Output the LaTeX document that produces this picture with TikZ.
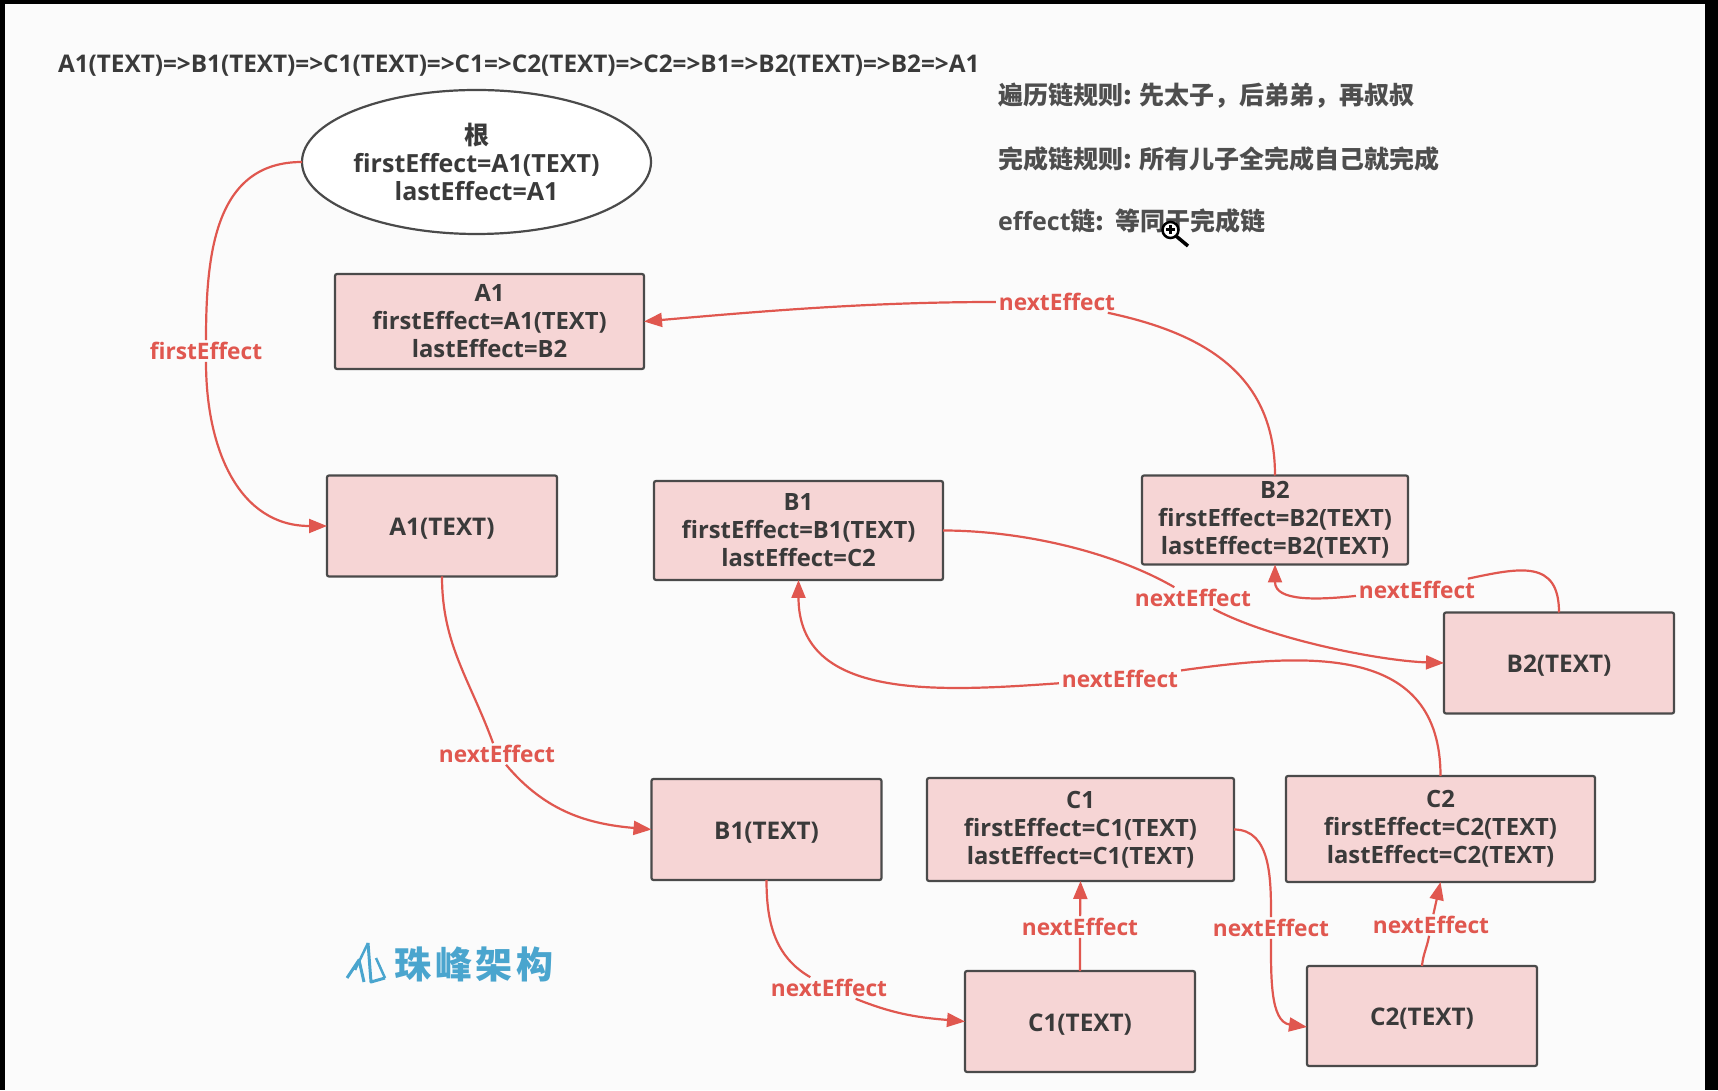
\documentclass[tikz,border=0pt]{standalone}
\usepackage{fontspec}
\setmainfont{Open Sans}
\newfontfamily\cjk{Noto Sans CJK SC}
\usetikzlibrary{arrows.meta,shapes.geometric}
\definecolor{bgcol}{HTML}{FBFBFB}
\definecolor{boxfill}{HTML}{F6D5D5}
\definecolor{boxline}{HTML}{4A4A4A}
\definecolor{linkred}{HTML}{E0574F}
\definecolor{inkgrey}{HTML}{3A3A3A}
\definecolor{logoblue}{HTML}{4AA5CE}
\tikzset{
  every node/.style={text=inkgrey,font=\fontsize{23.8}{28}\selectfont\bfseries,align=center,inner sep=0pt,outer sep=0pt},
  fiberbox/.style={draw=boxline,line width=2.2pt,fill=boxfill,rounded corners=2pt},
  textbox/.style={fiberbox,minimum width=230pt,minimum height=101pt,text height=19.5pt,text depth=0pt,font=\fontsize{24.3}{28}\selectfont\bfseries},
  rootnode/.style={ellipse,draw=boxline,line width=2.2pt,fill=white,minimum width=349pt,minimum height=144pt,font=\fontsize{25}{28}\selectfont\bfseries},
  steplabel/.style={text=linkred,font=\fontsize{22.7}{28}\selectfont\bfseries,inner xsep=3pt,inner ysep=2pt},
  link/.style={draw=linkred,line width=2.2pt,-{Triangle[length=18pt,width=14pt]}},
  rule/.style={anchor=west,font=\fontsize{25}{28}\selectfont\cjk\bfseries,text=inkgrey!90!white}
}
\begin{document}
\begin{tikzpicture}[x=1pt,y=1pt]
                \useasboundingbox (0,0) rectangle (1718,1090);
                \fill[black] (0,0) rectangle (1718,1090);
                \fill[bgcol] (5,0) rectangle (1705,1086);

                \node[anchor=west,font=\fontsize{24.3}{28}\selectfont\bfseries] (chain) at (58,1024) {A1(TEXT)=>B1(TEXT)=>C1(TEXT)=>C1=>C2(TEXT)=>C2=>B1=>B2(TEXT)=>B2=>A1};
                \node[rule] (rule1) at (998,994) {遍历链规则: 先太子，后弟弟，再叔叔};
                \node[rule] (rule2) at (998,931) {完成链规则: 所有儿子全完成自己就完成};
                \node[rule] (rule3) at (998,869) {{\rmfamily effect}链:\ \ 等同于完成链};

                \node[rootnode] (root) at (476.5,928) {{\cjk 根}\\firstEffect=A1(TEXT)\\lastEffect=A1};
                \node[fiberbox,minimum width=309pt,minimum height=95pt] (A1) at (489.5,768.5) {A1\\firstEffect=A1(TEXT)\\lastEffect=B2};
                \node[textbox] (A1T) at (442,564) {A1(TEXT)};
                \node[fiberbox,minimum width=289pt,minimum height=99pt] (B1) at (798.5,559.5) {B1\\firstEffect=B1(TEXT)\\lastEffect=C2};
                \node[fiberbox,minimum width=266pt,minimum height=89pt] (B2) at (1275,570) {B2\\firstEffect=B2(TEXT)\\lastEffect=B2(TEXT)};
                \node[textbox] (B2T) at (1559,427) {B2(TEXT)};
                \node[textbox] (B1T) at (766.5,260.5) {B1(TEXT)};
                \node[fiberbox,minimum width=307pt,minimum height=103pt] (C1) at (1080.5,260.5) {C1\\firstEffect=C1(TEXT)\\lastEffect=C1(TEXT)};
                \node[fiberbox,minimum width=309pt,minimum height=106pt] (C2) at (1440.5,261) {C2\\firstEffect=C2(TEXT)\\lastEffect=C2(TEXT)};
                \node[textbox] (C1T) at (1080,68.5) {C1(TEXT)};
                \node[textbox,minimum height=100pt] (C2T) at (1422,74) {C2(TEXT)};

                \node[steplabel] (lroot) at (206,739) {firstEffect};
                \node[steplabel] (lB2) at (1057,788) {nextEffect};
                \node[steplabel] (lA1T) at (497,336) {nextEffect};
                \node[steplabel] (lB1T) at (829,102) {nextEffect};
                \node[steplabel] (lC1T) at (1080,163) {nextEffect};
                \node[steplabel] (lC1) at (1271,162) {nextEffect};
                \node[steplabel] (lC2T) at (1431,165) {nextEffect};
                \node[steplabel] (lC2) at (1120,411) {nextEffect};
                \node[steplabel] (lB1) at (1193,492) {nextEffect};
                \node[steplabel] (lB2T) at (1417,500.5) {nextEffect};

                \path [link] (root.west) to[out=180,in=90,looseness=1.1] (lroot) to[out=-90,in=180,looseness=1.1] (A1T.west);
                \path [link] (B2.north) to[out=90,in=-12,looseness=1.1] (lB2) to[out=180,in=5,looseness=0.9] (A1.east);
                \path [link] (A1T.south) to[out=-90,in=110] (lA1T) to[out=-50,in=175] (B1T.west);
                \path [link] (B1T.south) to[out=-90,in=150] (lB1T) to[out=-22,in=175] (C1T.west);
                \path [link] (C1T.north) -- (lC1T) -- (C1.south);
                \path [link] (C1.east) to[out=0,in=90] (lC1) to[out=-90,in=172] ([yshift=-11pt]C2T.west);
                \path [link] (C2T.north) to[out=85,in=-100] (lC2T) -- (C2.south);
                \path [link] (C2.north) to[out=90,in=8,looseness=1.2] (lC2) to[out=184,in=-90,looseness=1.1] (B1.south);
                \path [link] (B1.east) to[out=0,in=150,looseness=0.8] (lB1) to[out=-28,in=178,looseness=0.7] (B2T.west);
                \path [link] (B2T.north) to[out=90,in=12,looseness=1.4] (lB2T) to[out=186,in=-90,looseness=1.1] (B2.south);

                \node[font=\fontsize{37}{40}\selectfont\cjk\bfseries\addfontfeature{LetterSpace=10},text=logoblue] (logo) at (474,126) {珠峰架构};
                \draw[logoblue,line width=3pt,line join=round] (347,112) -- (359,130) -- (364,108);
                \draw[logoblue,line width=3pt,line join=round] (368,147) -- (371,108) -- (385,112);
                \draw[logoblue,line width=2.5pt] (355,120) -- (368,147) (376,132) -- (385,112);

                \draw[black,line width=3.5pt] (1176,854) -- (1188,844);
                \draw[black,fill=white,line width=2.5pt] (1170.5,860) circle (8);
                \draw[black,line width=3pt] (1166,860) -- (1175,860) (1170.5,855.5) -- (1170.5,864.5);
\end{tikzpicture}
\end{document}
